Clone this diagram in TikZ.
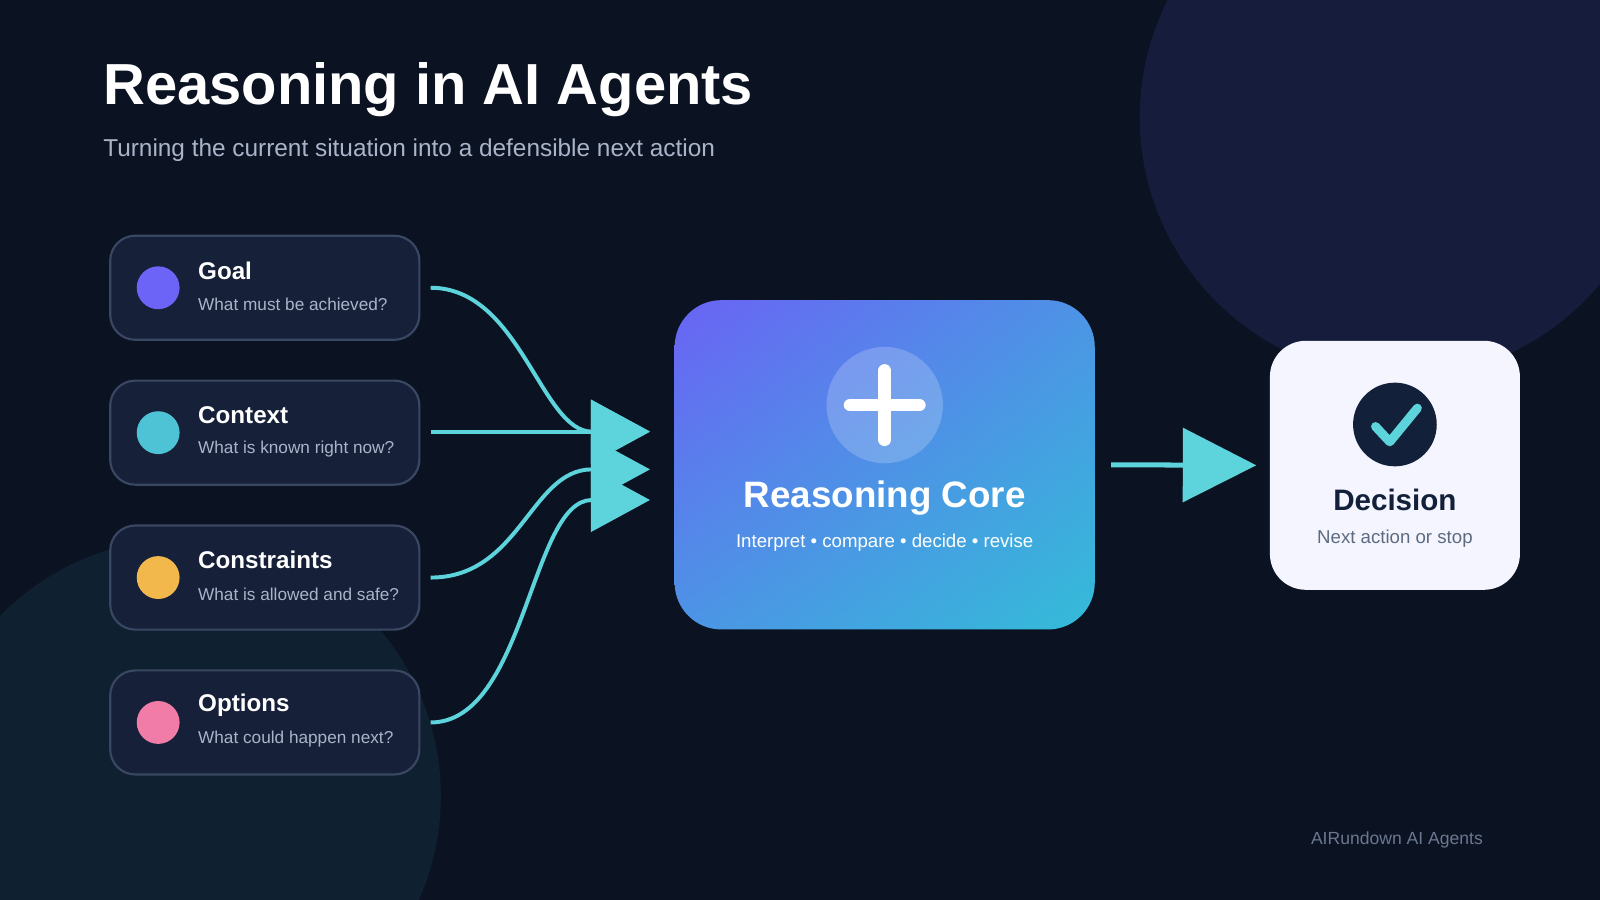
\documentclass[tikz,border=0pt]{standalone}
\usepackage{fontspec}
\setmainfont{Liberation Sans}
\usetikzlibrary{arrows.meta,calc,shadings}
\definecolor{bg}{HTML}{0B1322}
\definecolor{bgc1}{HTML}{161D3C}
\definecolor{bgc2}{HTML}{0F2030}
\definecolor{card}{HTML}{162038}
\definecolor{cardline}{HTML}{3A4762}
\definecolor{cyan}{HTML}{5DD3DC}
\definecolor{subtxt}{HTML}{A9B4C8}
\definecolor{purp}{HTML}{6C63F7}
\definecolor{teal}{HTML}{4FC3D6}
\definecolor{amber}{HTML}{F2B84B}
\definecolor{pink}{HTML}{F27CA8}
\definecolor{coreA}{HTML}{6B62F5}
\definecolor{coreB}{HTML}{33BDD8}
\definecolor{dark}{HTML}{13203A}
\definecolor{foot}{HTML}{6B7790}
\definecolor{decsubc}{HTML}{5D6B80}
\begin{document}
\begin{tikzpicture}[x=0.02cm,y=-0.02cm,
  card/.style={draw=cardline,line width=1.2pt,fill=card,rounded corners=14pt,minimum width=303*0.02cm,minimum height=102*0.02cm,inner sep=0pt},
  dot/.style={circle,minimum size=42*0.02cm,inner sep=0pt},
  lab/.style={anchor=west,text=white,font=\bfseries\fontsize{13.5}{14}\selectfont},
  sub/.style={anchor=west,text=subtxt,font=\fontsize{9.6}{11}\selectfont},
  conn/.style={draw=cyan,line width=2.2pt,-{Triangle[length=58*0.02cm,width=62*0.02cm]}}]
\fill[bg] (0,0) rectangle (1568,882);
\useasboundingbox (0,0) rectangle (1568,882);
\begin{scope}
\clip (0,0) rectangle (1568,882);
\fill[bgc1] (1372,115) circle (255);
\fill[bgc2] (180,780) circle (252);
\end{scope}
\node[anchor=west,text=white,font=\bfseries\fontsize{32.3}{36}\selectfont] (title) at (95,88) {Reasoning in AI Agents};
\node[anchor=west,text=subtxt,font=\fontsize{13.6}{15}\selectfont] (subtitle) at (95,147) {Turning the current situation into a defensible next action};
% cards
\foreach \n/\y/\c/\t/\s in {goal/282/purp/Goal/What must be achieved?,ctx/424/teal/Context/What is known right now?,con/566/amber/Constraints/What is allowed and safe?,opt/708/pink/Options/What could happen next?}{
  \node[card] (\n) at (259.5,\y) {};
  \node[dot,fill=\c] (\n dot) at (155,\y) {};
  \node[lab] (\n lab) at (188,\y-17) {\t};
  \node[sub] (\n sub) at (188,\y+16) {\s};
}
% targets
\coordinate (tg) at (637,423);
\coordinate (tc) at (637,423);
\coordinate (tk) at (637,460);
\coordinate (to) at (637,490);
\draw[conn] ($(goal.east)+(10,0)$) .. controls (510,282) and (530,423) .. (tg);
\draw[conn] ($(ctx.east)+(10,-1)$) -- (tc);
\draw[conn] ($(con.east)+(10,0)$) .. controls (510,566) and (520,460) .. (tk);
\draw[conn] ($(opt.east)+(10,0)$) .. controls (515,708) and (520,490) .. (to);
% core
\node[minimum width=411*0.02cm,minimum height=322*0.02cm,inner sep=0pt] (core) at (867,455.5) {};
\begin{scope}
\clip[rounded corners=26pt] (core.south west) rectangle (core.north east);
\shade[upper left=coreA,upper right=coreA!45!coreB,lower left=coreA!45!coreB,lower right=coreB] ($(core.south west)+(-5,5)$) rectangle ($(core.north east)+(5,-5)$);
\end{scope}
\node[circle,fill=white,fill opacity=0.2,minimum size=114*0.02cm,inner sep=0pt] (coreicon) at (867,397) {};
\draw[white,line width=7pt,line cap=round] (833,397) -- (901,397) (867,363) -- (867,431);
\node[text=white,font=\bfseries\fontsize{20.5}{22}\selectfont] (corelab) at (867,488) {Reasoning Core};
\node[text=white,font=\fontsize{10.4}{12}\selectfont] (coresub) at (867,532) {Interpret • compare • decide • revise};
% decision
\node[fill=white!96!blue,rounded corners=20pt,minimum width=245*0.02cm,minimum height=244*0.02cm,inner sep=0pt] (dec) at (1367,456) {};
\node[circle,fill=dark,minimum size=82*0.02cm,inner sep=0pt] (decicon) at (1367,416) {};
\draw[cyan,line width=5pt,line cap=round,line join=round] (1348,418) -- (1362,433) -- (1389,400);
\node[text=dark,font=\bfseries\fontsize{16.5}{18}\selectfont] (declab) at (1367,490) {Decision};
\node[text=decsubc,font=\fontsize{10.4}{12}\selectfont] (decsub) at (1367,528) {Next action or stop};
\draw[draw=cyan,line width=2.8pt,-{Triangle[length=72*0.02cm,width=72*0.02cm]}] ($(core.east)+(16,0)$) -- ($(dec.west)+(-13,0)$);
\node[text=foot,font=\fontsize{9.8}{11}\selectfont] (footer) at (1369,823) {AIRundown AI Agents};
\end{tikzpicture}
\end{document}
